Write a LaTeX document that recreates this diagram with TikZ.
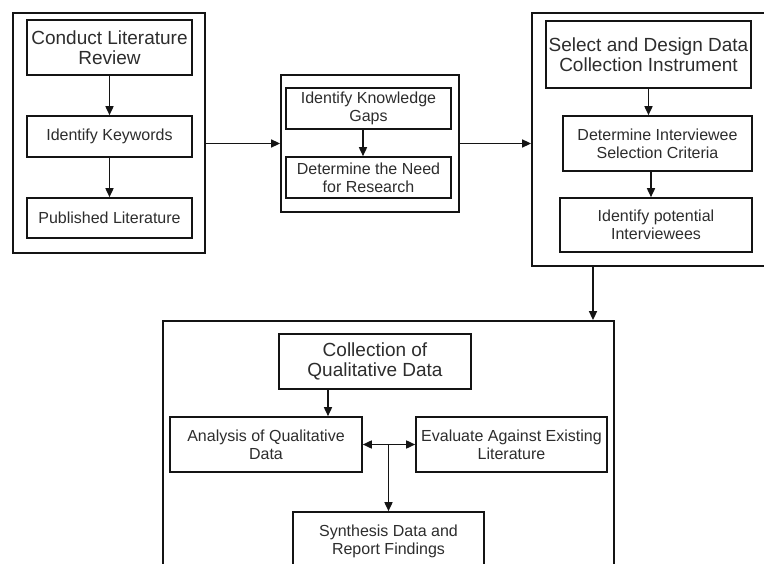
\documentclass[tikz,border=0pt]{standalone}
\usepackage{fontspec}
\setmainfont{Liberation Sans}
\usetikzlibrary{arrows.meta}
\definecolor{txt}{RGB}{45,45,45}
\definecolor{ln}{RGB}{20,20,20}
\begin{document}
\begin{tikzpicture}[x=1pt,y=-1pt,
  grp/.style={draw=ln,line width=1.8pt,inner sep=0pt},
  box/.style={draw=ln,line width=1.6pt,inner sep=0pt,align=center,text=txt,
    font=\fontsize{16}{18}\selectfont},
  bigbox/.style={box,font=\fontsize{19}{20.5}\selectfont},
  arr/.style={draw=ln,line width=1.6pt,-{Triangle[length=9pt,width=8pt]}},
  darr/.style={draw=ln,line width=1.6pt,{Triangle[length=9pt,width=8pt]}-{Triangle[length=9pt,width=8pt]}}]
\useasboundingbox (0,0) rectangle (764,564);
\fill[white] (0,0) rectangle (764,564);
\clip (0,0) rectangle (764,564);
% group 1
\node[grp,minimum width=192pt,minimum height=240pt] (G1) at (109,133) {};
\node[bigbox,minimum width=165pt,minimum height=55pt] (B1) at (109.5,47.5) {Conduct Literature\\Review};
\node[box,minimum width=165pt,minimum height=41pt] (B2) at (109.5,136.5) {Identify Keywords};
\node[box,minimum width=165pt,minimum height=40pt] (B3) at (109.5,218) {Published Literature};
\draw[arr] (B1.south) -- (B2.north);
\draw[arr] (B2.south) -- (B3.north);
% group 2
\node[grp,minimum width=178pt,minimum height=137pt] (G2) at (370,143.5) {};
\node[box,minimum width=165pt,minimum height=41pt] (C1) at (368.5,108.5) {Identify Knowledge\\Gaps};
\node[box,minimum width=165pt,minimum height=41pt] (C2) at (368.5,177.5) {Determine the Need\\for Research};
\draw[arr] ([xshift=-5.5pt]C1.south) -- ([xshift=-5.5pt]C2.north);
% group 3
\node[grp,minimum width=243pt,minimum height=253pt] (G3) at (653.5,139.5) {};
\node[bigbox,minimum width=205pt,minimum height=67pt] (D1) at (648.5,54.5) {Select and Design Data\\Collection Instrument};
\node[box,minimum width=189pt,minimum height=55pt] (D2) at (657.5,143.5) {Determine Interviewee\\Selection Criteria};
\node[box,minimum width=192pt,minimum height=54pt] (D3) at (656,225) {Identify potential\\Interviewees};
\draw[arr] (D1.south) -- (D1.south |- D2.north);
\draw[arr] ([xshift=-6.5pt]D2.south) -- ([xshift=-6.5pt]D2.south |- D3.north);
% group 4
\node[grp,minimum width=451pt,minimum height=279pt] (G4) at (388.5,460.5) {};
\node[bigbox,minimum width=192pt,minimum height=55pt] (E1) at (375,361.5) {Collection of\\Qualitative Data};
\node[box,minimum width=192pt,minimum height=55pt] (E2) at (266,444.5) {Analysis of Qualitative\\Data};
\node[box,minimum width=191pt,minimum height=55pt] (E3) at (511.5,444.5) {Evaluate Against Existing\\Literature};
\node[box,minimum width=191pt,minimum height=58pt] (E4) at (388.5,541) {Synthesis Data and\\Report Findings};
\draw[arr] ([xshift=-47pt]E1.south) -- ([xshift=-47pt]E1.south |- E2.north);
\draw[darr] (E2.east) -- (E3.west);
\draw[arr] (E4.north |- E2.east) -- (E4.north);
% group links
\draw[arr] (G1.east |- G2.west) -- (G2.west);
\draw[arr] (G2.east) -- (G2.east -| G3.west);
\draw[arr] ([xshift=-60.5pt]G3.south) -- ([xshift=-60.5pt]G3.south |- G4.north);
\end{tikzpicture}
\end{document}
